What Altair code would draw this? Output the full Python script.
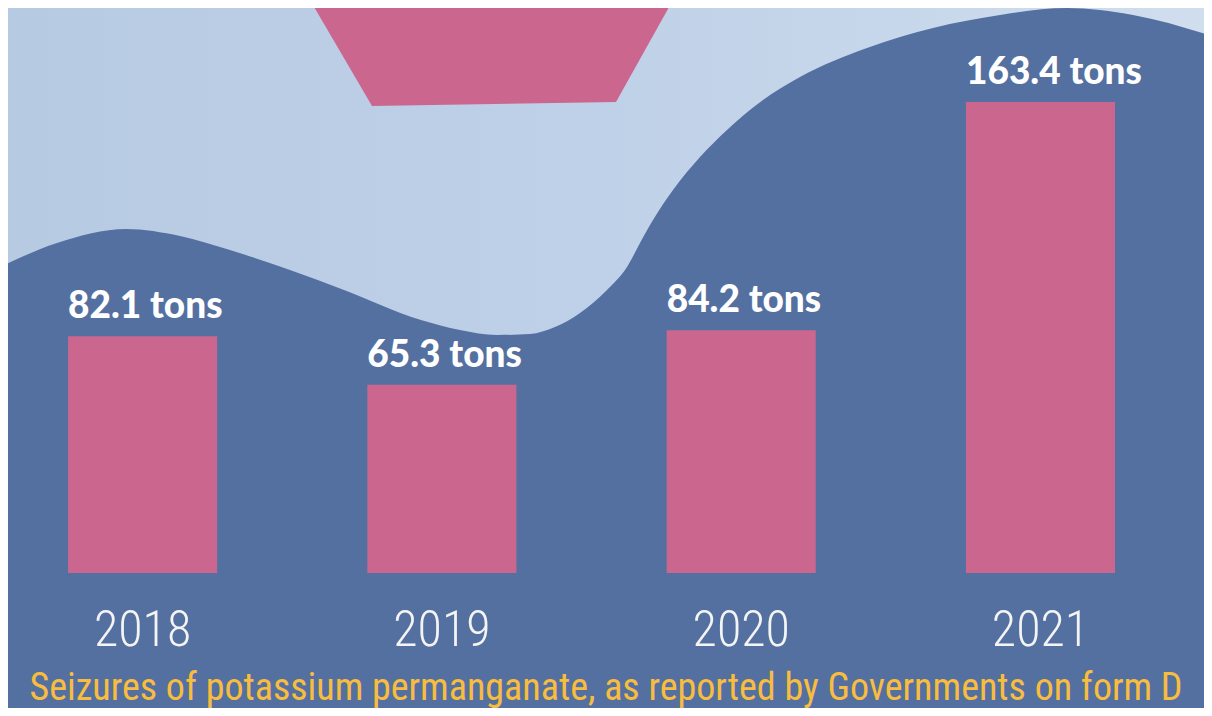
import altair as alt
import pandas as pd

# ---- chart data ----
years = ["2018", "2019", "2020", "2021"]
seizures_tons = [82.1, 65.3, 84.2, 163.4]
value_labels = [f"{v} tons" for v in seizures_tons]
caption = "Seizures of potassium permanganate, as reported by Governments on form D"

# ---- decorative background shapes (page-pixel units) ----
wave_x = [0, 57, 126, 180, 230, 290, 344, 421, 460, 497, 530, 555, 580, 607, 627,
          640, 653, 673, 700, 727, 763, 800, 867, 933, 1000, 1067, 1133, 1212]
wave_y = [267, 243, 229, 236, 250, 270, 290, 320, 330, 335, 334, 327, 313, 290, 267,
          243, 220, 190, 157, 130, 100, 77, 48, 28, 15, 8, 15, 36]
trap_x = [310, 372, 616, 673]
trap_y = [0, 106, 102, 0]
shape_top = -20

DARK = "#5470A0"
PINK = "#CB678F"
GOLD = "#F8BD3E"
NARROW = "Roboto Condensed, DejaVu Sans Condensed, sans-serif"

bars_df = pd.DataFrame({"year": years, "tons": seizures_tons, "label": value_labels})
wave_df = pd.DataFrame({"px": wave_x, "py": wave_y, "ptop": [shape_top] * len(wave_x)})
trap_df = pd.DataFrame({"px": trap_x, "py": trap_y, "ptop": [shape_top] * len(trap_x)})

PW, PH = 1196, 565

dx = alt.X("px:Q", scale=alt.Scale(domain=[8, 8 + PW], nice=False, zero=False), axis=None)
dy = alt.Y("py:Q", scale=alt.Scale(domain=[8, 8 + PH], reverse=True, nice=False, zero=False), axis=None)
dy2 = alt.Y2("ptop:Q")

light = alt.Chart(wave_df).mark_area(
    clip=True,
    interpolate="monotone",
    color=alt.Gradient(
        gradient="linear",
        stops=[alt.GradientStop(color="#B6CAE2", offset=0),
               alt.GradientStop(color="#BFD1E8", offset=0.5),
               alt.GradientStop(color="#D0DEEE", offset=1)],
        x1=0, x2=1, y1=0, y2=0,
    ),
).encode(x=dx, y=dy, y2=dy2)

trap = alt.Chart(trap_df).mark_area(clip=True, color=PINK, interpolate="linear").encode(
    x=dx, y=dy, y2=dy2
)

deco = alt.layer(light, trap)

xband = alt.X(
    "year:N",
    sort=years,
    scale=alt.Scale(paddingInner=0.502, paddingOuter=0.249, align=0.403),
    axis=alt.Axis(
        title=None, domain=False, ticks=False, labelAngle=0,
        labelFont=NARROW, labelFontSize=50, labelColor="#F4F4F4",
        labelPadding=32, labelFontWeight=300,
    ),
)
yval = alt.Y("tons:Q", scale=alt.Scale(domain=[0, 196], nice=False), axis=None)

bars = alt.Chart(bars_df).mark_bar(color=PINK).encode(x=xband, y=yval)

texts = alt.Chart(bars_df).mark_text(
    align="left", baseline="alphabetic", dy=-18,
    font="Lato", fontWeight=900, fontSize=37, color="white",
).encode(
    x=alt.X("year:N", sort=years, bandPosition=0),
    y=yval,
    text="label:N",
)

data_layer = alt.layer(bars, texts)

chart = alt.layer(deco, data_layer).resolve_scale(
    x="independent", y="independent"
).properties(
    width=PW,
    height=PH,
    title=alt.TitleParams(
        caption, orient="bottom", anchor="middle", font=NARROW,
        fontSize=38, fontWeight="normal", color=GOLD, offset=15,
    ),
    autosize=alt.AutoSizeParams(type="none"),
    padding={"left": 0, "top": 0, "right": 0, "bottom": 135},
    background=DARK,
).configure_view(stroke=None)

chart.save("out.html", embed_options={"renderer": "svg", "actions": False})
